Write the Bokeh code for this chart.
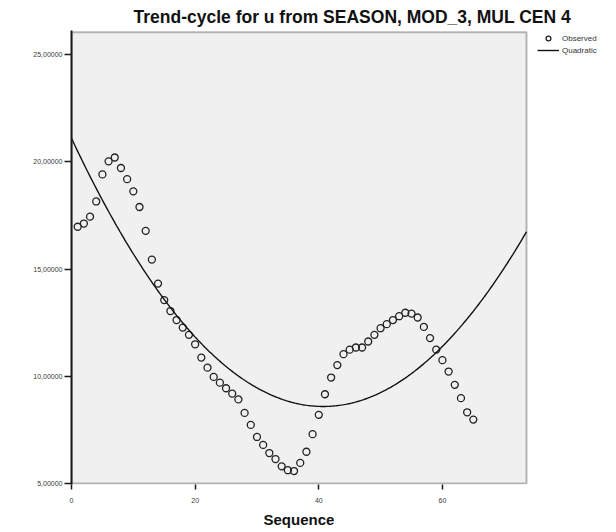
import numpy as np
from bokeh.plotting import figure
from bokeh.models import (ColumnDataSource, Range1d, FixedTicker, CustomJSTickFormatter,
                          Legend, LegendItem, BoxAnnotation, Title)
from bokeh.embed import file_html
from bokeh.resources import INLINE

# ---- data ----
sequence = list(range(1, 66))
observed = [16.97, 17.12, 17.44, 18.15, 19.41, 20.02, 20.20, 19.71, 19.19, 18.62,
            17.89, 16.78, 15.44, 14.32, 13.55, 13.04, 12.62, 12.27, 11.93, 11.49,
            10.87, 10.40, 9.97, 9.70, 9.44, 9.19, 8.92, 8.29, 7.73, 7.17,
            6.80, 6.42, 6.14, 5.80, 5.62, 5.58, 5.96, 6.48, 7.30, 8.20,
            9.16, 9.94, 10.52, 11.03, 11.24, 11.34, 11.34, 11.62, 11.93, 12.24,
            12.43, 12.62, 12.80, 12.96, 12.92, 12.74, 12.30, 11.78, 11.24, 10.75,
            10.22, 9.60, 8.98, 8.32, 7.98]
x_ticks = [0, 20, 40, 60]
y_ticks = [5, 10, 15, 20, 25]
title_text = "Trend-cycle for u from SEASON, MOD_3, MUL CEN 4"
x_label = "Sequence"
legend_labels = ["Observed", "Quadratic"]

# plot-area extent (axis ranges of the original chart)
x_min, x_max = 0, 73.6
y_min, y_max = 5, 26.04

# quadratic curve fit of the observed series
coef = np.polyfit(sequence, observed, 2)
xs = np.linspace(x_min, x_max, 300)
ys = np.polyval(coef, xs)

# the frame is widened to the right so the legend can sit beside the plot area
px_per_x = 455 / (x_max - x_min)
p = figure(width=616, height=532, output_backend="svg", toolbar_location=None,
           x_range=Range1d(x_min, x_min + 545 / px_per_x),
           y_range=Range1d(4.953, 26.12),
           min_border_left=71, min_border_right=0, min_border_top=30, min_border_bottom=48)
p.background_fill_color = "#ffffff"
p.border_fill_color = "#ffffff"
p.outline_line_color = None
p.grid.visible = False

area = BoxAnnotation(left=x_min, right=x_max, bottom=y_min, top=y_max,
                     fill_color="#f0f0f0", fill_alpha=1.0,
                     line_color="#1a1a1a", line_width=2, level="underlay")
p.add_layout(area)

p.title.text = title_text
p.title.align = "left"
p.title.offset = 62
p.title.text_font = "Liberation Sans"
p.title.text_font_size = "17.5px"
p.title.text_font_style = "bold"
p.title.text_color = "#111111"
p.title.standoff = 8

for ax in (p.xaxis[0], p.yaxis[0]):
    ax.axis_line_width = 2
    ax.axis_line_color = "#1a1a1a"
    ax.major_tick_line_color = "#1a1a1a"
    ax.major_tick_line_width = 1.5
    ax.minor_tick_line_color = None
    ax.major_tick_in = 0
    ax.major_label_text_font = "Liberation Sans"
    ax.major_label_text_font_size = "7px"
    ax.major_label_text_color = "#3a3a3a"

p.xaxis.axis_line_color = None
p.xaxis.ticker = FixedTicker(ticks=x_ticks)
p.xaxis.major_tick_out = 5
p.xaxis.major_label_standoff = 8

p.yaxis.ticker = FixedTicker(ticks=y_ticks)
p.yaxis.major_tick_out = 7
p.yaxis.major_label_standoff = 2
p.yaxis.formatter = CustomJSTickFormatter(code="return tick.toFixed(5).replace('.', ',');")

xlab = Title(text=x_label, align="left", offset=192, standoff=7,
             text_font="Liberation Sans", text_font_size="15px",
             text_font_style="bold", text_color="#111111")
p.add_layout(xlab, "below")

src = ColumnDataSource(dict(x=sequence, y=observed))
r_obs = p.scatter("x", "y", source=src, size=7, marker="circle", fill_color=None,
                  line_color="#222222", line_width=1.3)
r_fit = p.line(xs, ys, line_color="#111111", line_width=1.4)

legend = Legend(items=[LegendItem(label=legend_labels[0], renderers=[r_obs]),
                       LegendItem(label=legend_labels[1], renderers=[r_fit])],
                location=(466, 428), orientation="vertical",
                background_fill_alpha=0, border_line_color=None,
                padding=0, margin=0, spacing=0,
                glyph_width=22, glyph_height=12, label_height=12,
                label_standoff=3, label_text_font="Liberation Sans",
                label_text_font_size="8px", label_text_color="#333333")
p.add_layout(legend)

open("out.html", "w").write(file_html(p, INLINE))
